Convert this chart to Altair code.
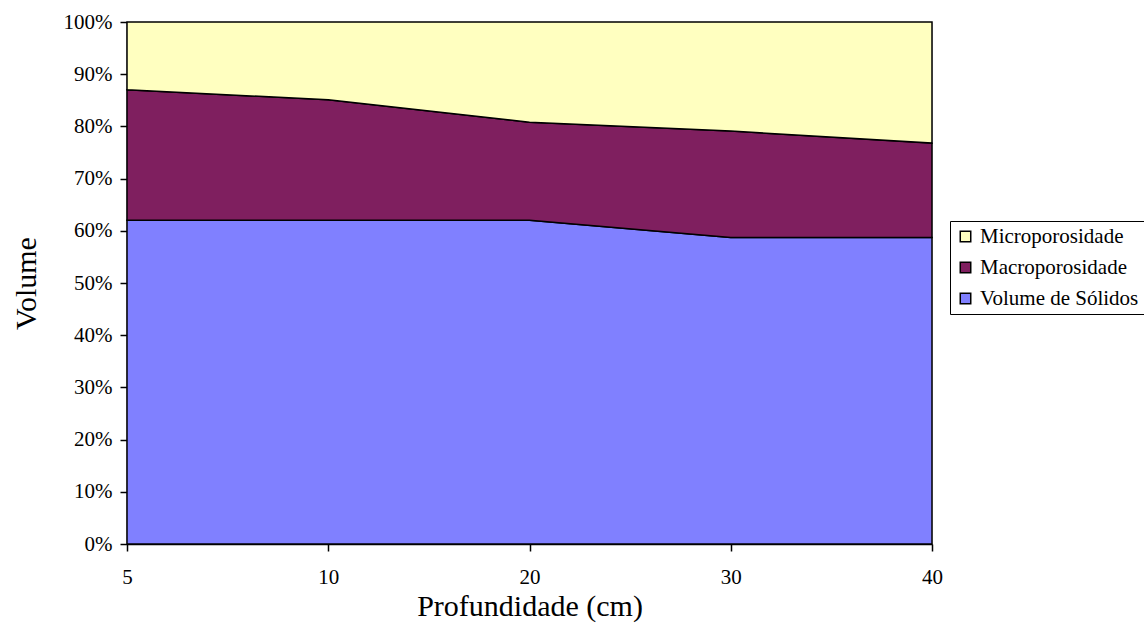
import altair as alt
import pandas as pd

depths = ["5", "10", "20", "30", "40"]
solidos = [0.62, 0.62, 0.62, 0.587, 0.587]
macro = [0.25, 0.231, 0.188, 0.204, 0.181]
micro = [0.13, 0.149, 0.192, 0.209, 0.232]

series = ["Microporosidade", "Macroporosidade", "Volume de Sólidos"]
colors = ["#FFFFC0", "#7F1F5F", "#8080FF"]

rows = []
for i, d in enumerate(depths):
    rows.append({"depth": d, "serie": "Volume de Sólidos", "val": solidos[i], "ord": 0})
    rows.append({"depth": d, "serie": "Macroporosidade", "val": macro[i], "ord": 1})
    rows.append({"depth": d, "serie": "Microporosidade", "val": micro[i], "ord": 2})
df = pd.DataFrame(rows)

font = "Times New Roman, Liberation Serif, serif"

chart = alt.Chart(df).mark_area(stroke="black", strokeWidth=1.5, opacity=1).encode(
    x=alt.X("depth:O", sort=depths, scale=alt.Scale(type="point", padding=0),
            axis=alt.Axis(title="Profundidade (cm)", labelAngle=0, labelFont=font,
                          labelFontSize=21, labelColor="black", titleFont=font,
                          titleFontSize=30, titleFontWeight="normal", titleColor="black",
                          tickColor="black", tickSize=7, tickWidth=1.5, domainColor="black",
                          domainWidth=1.5, labelPadding=15, titlePadding=4, grid=False)),
    y=alt.Y("val:Q", stack="zero", scale=alt.Scale(domain=[0, 1]),
            axis=alt.Axis(title="Volume", format="%", values=[i / 10 for i in range(11)],
                          labelFont=font, labelFontSize=21, labelColor="black",
                          titleFont=font, titleFontSize=30, titleFontWeight="normal",
                          titleColor="black", tickColor="black", tickSize=7, tickWidth=1.5,
                          domainColor="black", domainWidth=1.5, labelPadding=8,
                          titlePadding=22, grid=False)),
    color=alt.Color("serie:N", scale=alt.Scale(domain=series, range=colors),
                    legend=alt.Legend(title=None, orient="none", legendX=823, legendY=199,
                                      labelFont=font, labelFontSize=21, labelColor="black",
                                      symbolType="square", symbolSize=110,
                                      symbolStrokeColor="black", symbolStrokeWidth=1.5,
                                      symbolOpacity=1, strokeColor="black", padding=5,
                                      rowPadding=9, labelOffset=4, cornerRadius=0)),
    order=alt.Order("ord:Q", sort="ascending"),
).properties(
    width=805, height=522,
    autosize=alt.AutoSizeParams(type="none"),
    padding={"left": 127, "top": 22, "right": 212, "bottom": 80},
).configure_view(stroke="black", strokeWidth=1.5).configure(background="white")

chart.save("out.html", embed_options={"renderer": "svg", "actions": False})
